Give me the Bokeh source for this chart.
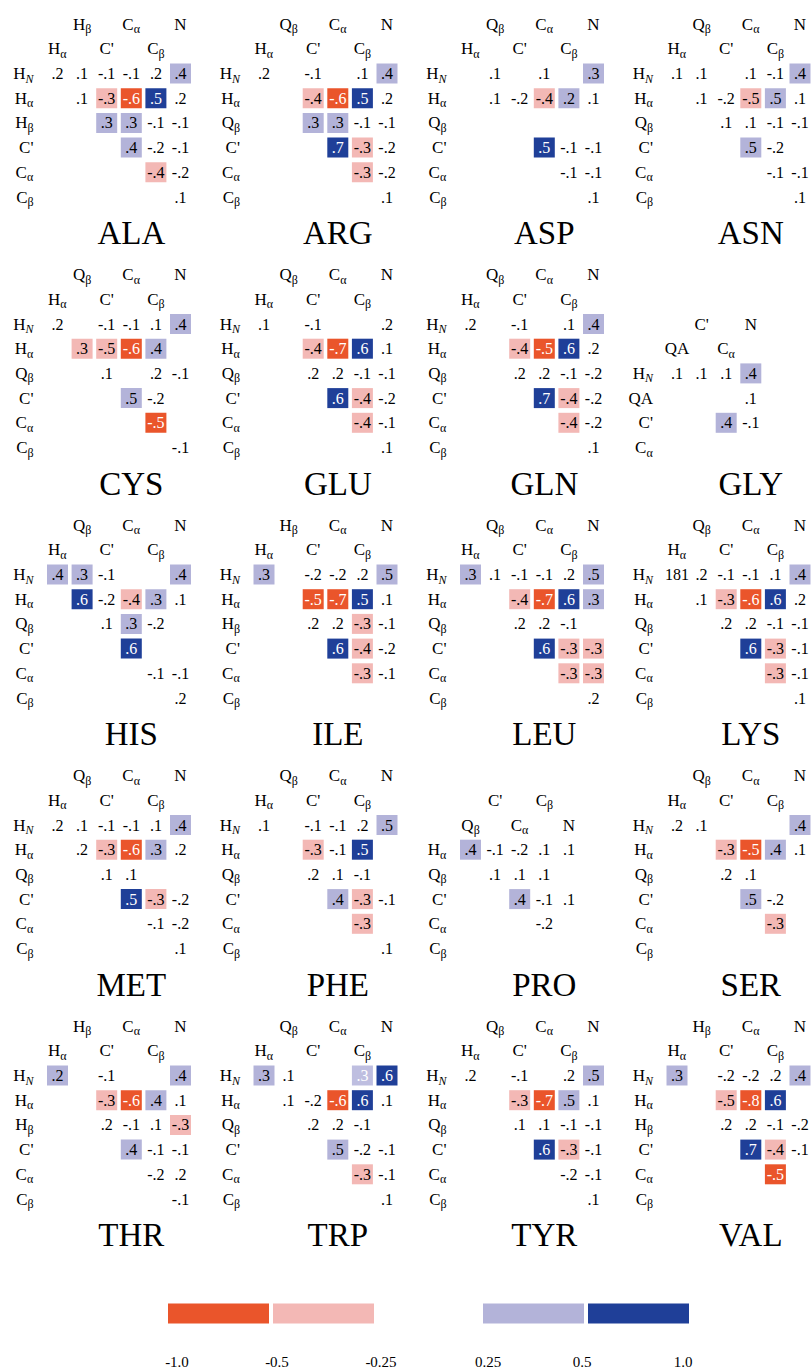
from bokeh.plotting import figure
from bokeh.models import Range1d, ColumnDataSource
from bokeh.embed import file_html
from bokeh.resources import INLINE
from bokeh.core.properties import value

N = None

# ---------------- labels ----------------
HB_rows = ["H_N", "H_α", "H_β", "C'", "C_α", "C_β"]
HB_cols = ["H_α", "H_β", "C'", "C_α", "C_β", "N"]
QB_rows = ["H_N", "H_α", "Q_β", "C'", "C_α", "C_β"]
QB_cols = ["H_α", "Q_β", "C'", "C_α", "C_β", "N"]
GLY_rows = ["H_N", "QA", "C'", "C_α"]
GLY_cols = ["QA", "C'", "C_α", "N"]
PRO_rows = ["H_α", "Q_β", "C'", "C_α", "C_β"]
PRO_cols = ["Q_β", "C'", "C_α", "C_β", "N"]

residues = ["ALA", "ARG", "ASP", "ASN", "CYS", "GLU", "GLN", "GLY", "HIS", "ILE",
            "LEU", "LYS", "MET", "PHE", "PRO", "SER", "THR", "TRP", "TYR", "VAL"]

# shade classes: -2 strong negative, -1 weak negative, 1 weak positive, 2 strong positive
ALA_vals = [[.2, .1, -.1, -.1, .2, .4], [N, .1, -.3, -.6, .5, .2], [N, N, .3, .3, -.1, -.1],
            [N, N, N, .4, -.2, -.1], [N, N, N, N, -.4, -.2], [N, N, N, N, N, .1]]
ALA_shade = {(0, 5): 1, (1, 2): -1, (1, 3): -2, (1, 4): 2, (2, 2): 1, (2, 3): 1, (3, 3): 1, (4, 4): -1}

ARG_vals = [[.2, N, -.1, N, .1, .4], [N, N, -.4, -.6, .5, .2], [N, N, .3, .3, -.1, -.1],
            [N, N, N, .7, -.3, -.2], [N, N, N, N, -.3, -.2], [N, N, N, N, N, .1]]
ARG_shade = {(0, 5): 1, (1, 2): -1, (1, 3): -2, (1, 4): 2, (2, 2): 1, (2, 3): 1, (3, 3): 2, (3, 4): -1, (4, 4): -1}

ASP_vals = [[N, .1, N, .1, N, .3], [N, .1, -.2, -.4, .2, .1], [N, N, N, N, N, N],
            [N, N, N, .5, -.1, -.1], [N, N, N, N, -.1, -.1], [N, N, N, N, N, .1]]
ASP_shade = {(0, 5): 1, (1, 3): -1, (1, 4): 1, (3, 3): 2}

ASN_vals = [[.1, .1, N, .1, -.1, .4], [N, .1, -.2, -.5, .5, .1], [N, N, .1, .1, -.1, -.1],
            [N, N, N, .5, -.2, N], [N, N, N, N, -.1, -.1], [N, N, N, N, N, .1]]
ASN_shade = {(0, 5): 1, (1, 3): -1, (1, 4): 1, (3, 3): 1}

CYS_vals = [[.2, N, -.1, -.1, .1, .4], [N, .3, -.5, -.6, .4, N], [N, N, .1, N, .2, -.1],
            [N, N, N, .5, -.2, N], [N, N, N, N, -.5, N], [N, N, N, N, N, -.1]]
CYS_shade = {(0, 5): 1, (1, 1): -1, (1, 2): -1, (1, 3): -2, (1, 4): 1, (3, 3): 1, (4, 4): -2}

GLU_vals = [[.1, N, -.1, N, N, .2], [N, N, -.4, -.7, .6, .1], [N, N, .2, .2, -.1, -.1],
            [N, N, N, .6, -.4, -.2], [N, N, N, N, -.4, -.1], [N, N, N, N, N, .1]]
GLU_shade = {(1, 2): -1, (1, 3): -2, (1, 4): 2, (3, 3): 2, (3, 4): -1, (4, 4): -1}

GLN_vals = [[.2, N, -.1, N, .1, .4], [N, N, -.4, -.5, .6, .2], [N, N, .2, .2, -.1, -.2],
            [N, N, N, .7, -.4, -.2], [N, N, N, N, -.4, -.2], [N, N, N, N, N, .1]]
GLN_shade = {(0, 5): 1, (1, 2): -1, (1, 3): -2, (1, 4): 2, (3, 3): 2, (3, 4): -1, (4, 4): -1}

GLY_vals = [[.1, .1, .1, .4], [N, N, N, .1], [N, N, .4, -.1], [N, N, N, N]]
GLY_shade = {(0, 3): 1, (2, 2): 1}

HIS_vals = [[.4, .3, -.1, N, N, .4], [N, .6, -.2, -.4, .3, .1], [N, N, .1, .3, -.2, N],
            [N, N, N, .6, N, N], [N, N, N, N, -.1, -.1], [N, N, N, N, N, .2]]
HIS_shade = {(0, 0): 1, (0, 1): 1, (0, 5): 1, (1, 1): 2, (1, 3): -1, (1, 4): 1, (2, 3): 1, (3, 3): 2}

ILE_vals = [[.3, N, -.2, -.2, .2, .5], [N, N, -.5, -.7, .5, .1], [N, N, .2, .2, -.3, -.1],
            [N, N, N, .6, -.4, -.2], [N, N, N, N, -.3, -.1], [N, N, N, N, N, N]]
ILE_shade = {(0, 0): 1, (0, 5): 1, (1, 2): -2, (1, 3): -2, (1, 4): 2, (2, 4): -1, (3, 3): 2, (3, 4): -1, (4, 4): -1}

LEU_vals = [[.3, .1, -.1, -.1, .2, .5], [N, N, -.4, -.7, .6, .3], [N, N, .2, .2, -.1, N],
            [N, N, N, .6, -.3, -.3], [N, N, N, N, -.3, -.3], [N, N, N, N, N, .2]]
LEU_shade = {(0, 0): 1, (0, 5): 1, (1, 2): -1, (1, 3): -2, (1, 4): 2, (1, 5): 1, (3, 3): 2, (3, 4): -1,
             (3, 5): -1, (4, 4): -1, (4, 5): -1}

LYS_vals = [[181, .2, -.1, -.1, .1, .4], [N, .1, -.3, -.6, .6, .2], [N, N, .2, .2, -.1, -.1],
            [N, N, N, .6, -.3, -.1], [N, N, N, N, -.3, -.1], [N, N, N, N, N, .1]]
LYS_shade = {(0, 5): 1, (1, 2): -1, (1, 3): -2, (1, 4): 2, (3, 3): 2, (3, 4): -1, (4, 4): -1}

MET_vals = [[.2, .1, -.1, -.1, .1, .4], [N, .2, -.3, -.6, .3, .2], [N, N, .1, .1, N, N],
            [N, N, N, .5, -.3, -.2], [N, N, N, N, -.1, -.2], [N, N, N, N, N, .1]]
MET_shade = {(0, 5): 1, (1, 2): -1, (1, 3): -2, (1, 4): 1, (3, 3): 2, (3, 4): -1}

PHE_vals = [[.1, N, -.1, -.1, .2, .5], [N, N, -.3, -.1, .5, N], [N, N, .2, .1, -.1, N],
            [N, N, N, .4, -.3, -.1], [N, N, N, N, -.3, N], [N, N, N, N, N, .1]]
PHE_shade = {(0, 5): 1, (1, 2): -1, (1, 4): 2, (3, 3): 1, (3, 4): -1, (4, 4): -1}

PRO_vals = [[.4, -.1, -.2, .1, .1], [N, .1, .1, .1, N], [N, N, .4, -.1, .1], [N, N, N, -.2, N],
            [N, N, N, N, N]]
PRO_shade = {(0, 0): 1, (2, 2): 1}

SER_vals = [[.2, .1, N, N, N, .4], [N, N, -.3, -.5, .4, .1], [N, N, .2, .1, N, N],
            [N, N, N, .5, -.2, N], [N, N, N, N, -.3, N], [N, N, N, N, N, N]]
SER_shade = {(0, 5): 1, (1, 2): -1, (1, 3): -2, (1, 4): 1, (3, 3): 1, (4, 4): -1}

THR_vals = [[.2, N, -.1, N, N, .4], [N, N, -.3, -.6, .4, .1], [N, N, .2, -.1, .1, -.3],
            [N, N, N, .4, -.1, -.1], [N, N, N, N, -.2, .2], [N, N, N, N, N, -.1]]
THR_shade = {(0, 0): 1, (0, 5): 1, (1, 2): -1, (1, 3): -2, (1, 4): 1, (2, 5): -1, (3, 3): 1}

TRP_vals = [[.3, .1, N, N, .3, .6], [N, .1, -.2, -.6, .6, .1], [N, N, .2, .2, -.1, N],
            [N, N, N, .5, -.2, -.1], [N, N, N, N, -.3, -.1], [N, N, N, N, N, .1]]
TRP_shade = {(0, 0): 1, (0, 4): 3, (0, 5): 2, (1, 3): -2, (1, 4): 2, (3, 3): 1, (4, 4): -1}

TYR_vals = [[.2, N, -.1, N, .2, .5], [N, N, -.3, -.7, .5, .1], [N, N, .1, .1, -.1, -.1],
            [N, N, N, .6, -.3, -.1], [N, N, N, N, -.2, -.1], [N, N, N, N, N, .1]]
TYR_shade = {(0, 5): 1, (1, 2): -1, (1, 3): -2, (1, 4): 1, (3, 3): 2, (3, 4): -1}

VAL_vals = [[.3, N, -.2, -.2, .2, .4], [N, N, -.5, -.8, .6, N], [N, N, .2, .2, -.1, -.2],
            [N, N, N, .7, -.4, -.1], [N, N, N, N, -.5, N], [N, N, N, N, N, N]]
VAL_shade = {(0, 0): 1, (0, 5): 1, (1, 2): -1, (1, 3): -2, (1, 4): 2, (3, 3): 2, (3, 4): -1, (4, 4): -2}

legend_ranges = [(-1.0, -0.5), (-0.5, -0.25), (0.25, 0.5), (0.5, 1.0)]
legend_classes = [-2, -1, 1, 2]
legend_labels = ["-1.0", "-0.5", "-0.25", "0.25", "0.5", "1.0"]

panels = [
    ("ALA", HB_rows, HB_cols, ALA_vals, ALA_shade), ("ARG", QB_rows, QB_cols, ARG_vals, ARG_shade),
    ("ASP", QB_rows, QB_cols, ASP_vals, ASP_shade), ("ASN", QB_rows, QB_cols, ASN_vals, ASN_shade),
    ("CYS", QB_rows, QB_cols, CYS_vals, CYS_shade), ("GLU", QB_rows, QB_cols, GLU_vals, GLU_shade),
    ("GLN", QB_rows, QB_cols, GLN_vals, GLN_shade), ("GLY", GLY_rows, GLY_cols, GLY_vals, GLY_shade),
    ("HIS", QB_rows, QB_cols, HIS_vals, HIS_shade), ("ILE", HB_rows, HB_cols, ILE_vals, ILE_shade),
    ("LEU", QB_rows, QB_cols, LEU_vals, LEU_shade), ("LYS", QB_rows, QB_cols, LYS_vals, LYS_shade),
    ("MET", QB_rows, QB_cols, MET_vals, MET_shade), ("PHE", QB_rows, QB_cols, PHE_vals, PHE_shade),
    ("PRO", PRO_rows, PRO_cols, PRO_vals, PRO_shade), ("SER", QB_rows, QB_cols, SER_vals, SER_shade),
    ("THR", HB_rows, HB_cols, THR_vals, THR_shade), ("TRP", QB_rows, QB_cols, TRP_vals, TRP_shade),
    ("TYR", QB_rows, QB_cols, TYR_vals, TYR_shade), ("VAL", HB_rows, HB_cols, VAL_vals, VAL_shade),
]

# ---------------- style ----------------
FONT = "Liberation Serif"
COLORS = {-2: "#EA552B", -1: "#F3B8B5", 1: "#B3B3D9", 2: "#1F3F98", 3: "#BEBEE0"}
TXTCOL = {-2: "white", -1: "black", 0: "black", 1: "black", 2: "white", 3: "white"}
LBL, SUB, VALSZ, TTL = 17, 12, 16, 33
EM = {"H": .722, "C": .667, "Q": .722, "N": .722, "A": .722, "'": .18, "α": .55, "β": .5}

COL0_X, ROW0_Y = 57.0, 73.0
DX, DY = 24.6, 24.7
PANEL_DX, PANEL_DY = 206.5, 250.5
CELL_W, CELL_H = 21, 20

W, H = 812, 1371


def fmt(v):
    if abs(v) >= 1:
        return str(int(v))
    s = f"{v:.1f}"
    return s.replace("0.", ".")


def parts(lbl):
    if "_" in lbl:
        b, s = lbl.split("_")
        return b, s
    return lbl, ""


def widths(b, s):
    wb = sum(EM.get(c, .5) for c in b) * LBL
    ws = sum((0.667 if c == "N" else EM.get(c, .5)) for c in s) * SUB
    return wb, ws


p = figure(width=W, height=H, x_range=Range1d(0, W), y_range=Range1d(H, 0),
           output_backend="svg", toolbar_location=None, min_border=0,
           x_axis_type=None, y_axis_type=None)
p.grid.visible = False
p.outline_line_color = None
p.background_fill_color = "white"
p.border_fill_color = "white"

rect = dict(x=[], y=[], c=[])
vtxt = dict(x=[], y=[], t=[], c=[])
base = dict(x=[], y=[], t=[])
sub_n = dict(x=[], y=[], t=[])
sub_i = dict(x=[], y=[], t=[])
ttl = dict(x=[], y=[], t=[])


def add_label(lbl, left, y):
    b, s = parts(lbl)
    wb, ws = widths(b, s)
    base["x"].append(left); base["y"].append(y); base["t"].append(b)
    if s:
        d = sub_i if s == "N" else sub_n
        d["x"].append(left + wb); d["y"].append(y + 5); d["t"].append(s)
    return wb + ws


for k, (name, rows, cols, vals, shade) in enumerate(panels):
    pr, pc = divmod(k, 4)
    X0 = COL0_X + pc * PANEL_DX
    Y0 = ROW0_Y + pr * PANEL_DY
    off = 6 - len(rows)
    cx = lambda j: X0 + j * DX
    ry = lambda i: Y0 + (i + off) * DY
    for j, lab in enumerate(cols):
        b, s = parts(lab)
        wb, ws = widths(b, s)
        y = ry(-1) if j % 2 == 0 else ry(-2)
        add_label(lab, cx(j) - (wb + ws) / 2, y)
    for i, lab in enumerate(rows):
        b, s = parts(lab)
        wb, ws = widths(b, s)
        add_label(lab, X0 - 24 - (wb + ws), ry(i))
    for i, row in enumerate(vals):
        for j, v in enumerate(row):
            if v is None:
                continue
            sc = shade.get((i, j), 0)
            if sc:
                rect["x"].append(cx(j)); rect["y"].append(ry(i)); rect["c"].append(COLORS[sc])
            vtxt["x"].append(cx(j)); vtxt["y"].append(ry(i))
            vtxt["t"].append(fmt(v)); vtxt["c"].append(TXTCOL[sc])
    ttl["x"].append(X0 + 3 * DX); ttl["y"].append(Y0 + 6.5 * DY - 1); ttl["t"].append(name)

p.rect(x="x", y="y", width=CELL_W, height=CELL_H, fill_color="c", line_color=None,
       source=ColumnDataSource(rect))
p.text(x="x", y="y", text="t", text_color="c", text_font=value(FONT), text_font_size=f"{VALSZ}px",
       text_align="center", text_baseline="middle", source=ColumnDataSource(vtxt))
p.text(x="x", y="y", text="t", text_color="black", text_font=value(FONT), text_font_size=f"{LBL}px",
       text_align="left", text_baseline="middle", source=ColumnDataSource(base))
p.text(x="x", y="y", text="t", text_color="black", text_font=value(FONT), text_font_size=f"{SUB}px",
       text_align="left", text_baseline="middle", source=ColumnDataSource(sub_n))
p.text(x="x", y="y", text="t", text_color="black", text_font=value(FONT), text_font_size=f"{SUB}px",
       text_font_style="italic", text_align="left", text_baseline="middle",
       source=ColumnDataSource(sub_i))
p.text(x="x", y="y", text="t", text_color="black", text_font=value(FONT), text_font_size=f"{TTL}px",
       text_align="center", text_baseline="middle", source=ColumnDataSource(ttl))

# ---------------- legend ----------------
LEG_C0, LEG_STEP, LEG_W, LEG_Y, LEG_H = 218.0, 105.0, 101, 1313, 20
slots = [0, 1, 3, 4]
leg = dict(x=[], c=[])
for sl, cl in zip(slots, legend_classes):
    leg["x"].append(LEG_C0 + sl * LEG_STEP); leg["c"].append(COLORS[cl])
p.rect(x="x", y=LEG_Y, width=LEG_W, height=LEG_H, fill_color="c", line_color=None,
       source=ColumnDataSource(leg))
edges = [LEG_C0 - LEG_STEP / 2, LEG_C0 + LEG_STEP / 2, LEG_C0 + 1.5 * LEG_STEP,
         LEG_C0 + 2.5 * LEG_STEP, LEG_C0 + 3.5 * LEG_STEP, LEG_C0 + 4.5 * LEG_STEP]
nudge = [11, 6, 5, 7, -4, -8]
p.text(x=[e + n for e, n in zip(edges, nudge)], y=[1361] * 6, text=legend_labels, text_color="black",
       text_font=value(FONT), text_font_size="15px", text_align="center", text_baseline="middle")

open("out.html", "w").write(file_html(p, INLINE))
